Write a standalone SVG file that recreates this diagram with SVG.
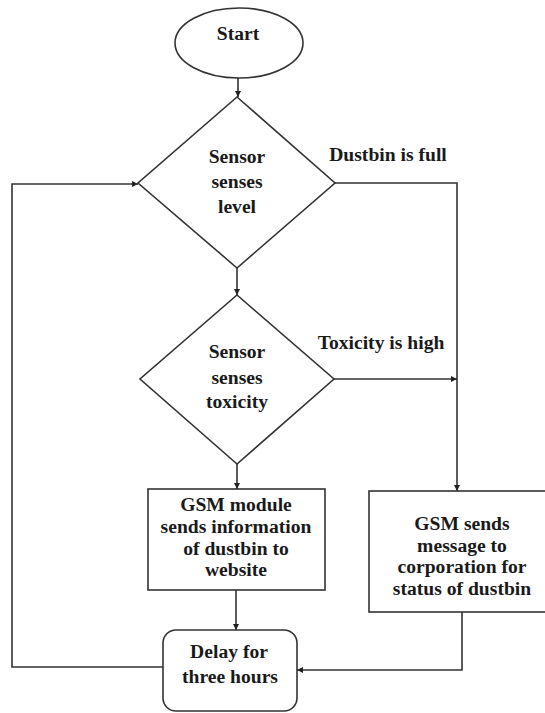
<svg xmlns="http://www.w3.org/2000/svg" width="545" height="713" viewBox="0 0 545 713">
<defs>
<marker id="ah" markerWidth="8" markerHeight="8" refX="6" refY="3" orient="auto" markerUnits="userSpaceOnUse">
<path d="M0,0 L6,3 L0,6 Z" fill="#222"/>
</marker>
<style>
.shape{fill:#fff;stroke:#333;stroke-width:1.6}
.conn{fill:none;stroke:#333;stroke-width:1.6;marker-end:url(#ah)}
text{font-family:"Liberation Serif","Times New Roman",serif;font-weight:bold;font-size:19.6px;fill:#1a1a1a;text-anchor:middle}
</style>
</defs>
<rect width="545" height="713" fill="#fff"/>
<g id="connectors">
<path class="conn" d="M238,78 L238,97"/>
<path class="conn" d="M237,268 L237,295"/>
<path class="conn" d="M237,464 L237,489"/>
<path class="conn" d="M236,590 L236,630"/>
<path class="conn" d="M335,183 L457,183 L457,491"/>
<path class="conn" d="M334,379 L457,379"/>
<path class="conn" d="M462,612 L462,670 L297,670"/>
<path class="conn" d="M163,667 L12,667 L12,184 L138,184"/>
</g>
<g id="start">
<ellipse class="shape" cx="239" cy="43" rx="64" ry="35"/>
<text x="238" y="40">Start</text>
</g>
<g id="sense-level">
<polygon class="shape" points="237,97 335,183 237,268 138,183"/>
<text x="237" y="163">Sensor</text>
<text x="237" y="188">senses</text>
<text x="237" y="213">level</text>
</g>
<g id="label-full">
<text x="388" y="161">Dustbin is full</text>
</g>
<g id="sense-toxicity">
<polygon class="shape" points="237,295 334,379 237,464 140,379"/>
<text x="237" y="358">Sensor</text>
<text x="237" y="384">senses</text>
<text x="237" y="408">toxicity</text>
</g>
<g id="label-toxic">
<text x="381" y="349">Toxicity is high</text>
</g>
<g id="gsm-website">
<rect class="shape" x="148" y="489" width="177" height="101"/>
<text x="236" y="511">GSM module</text>
<text x="236" y="533">sends information</text>
<text x="236" y="555">of dustbin to</text>
<text x="236" y="576">website</text>
</g>
<g id="gsm-corporation">
<rect class="shape" x="369" y="491" width="186" height="121"/>
<text x="462" y="530">GSM sends</text>
<text x="462" y="552">message to</text>
<text x="462" y="573">corporation for</text>
<text x="462" y="595">status of dustbin</text>
</g>
<g id="delay">
<rect class="shape" x="163" y="630" width="134" height="81" rx="13"/>
<text x="229" y="658">Delay for</text>
<text x="230" y="683">three hours</text>
</g>
</svg>
